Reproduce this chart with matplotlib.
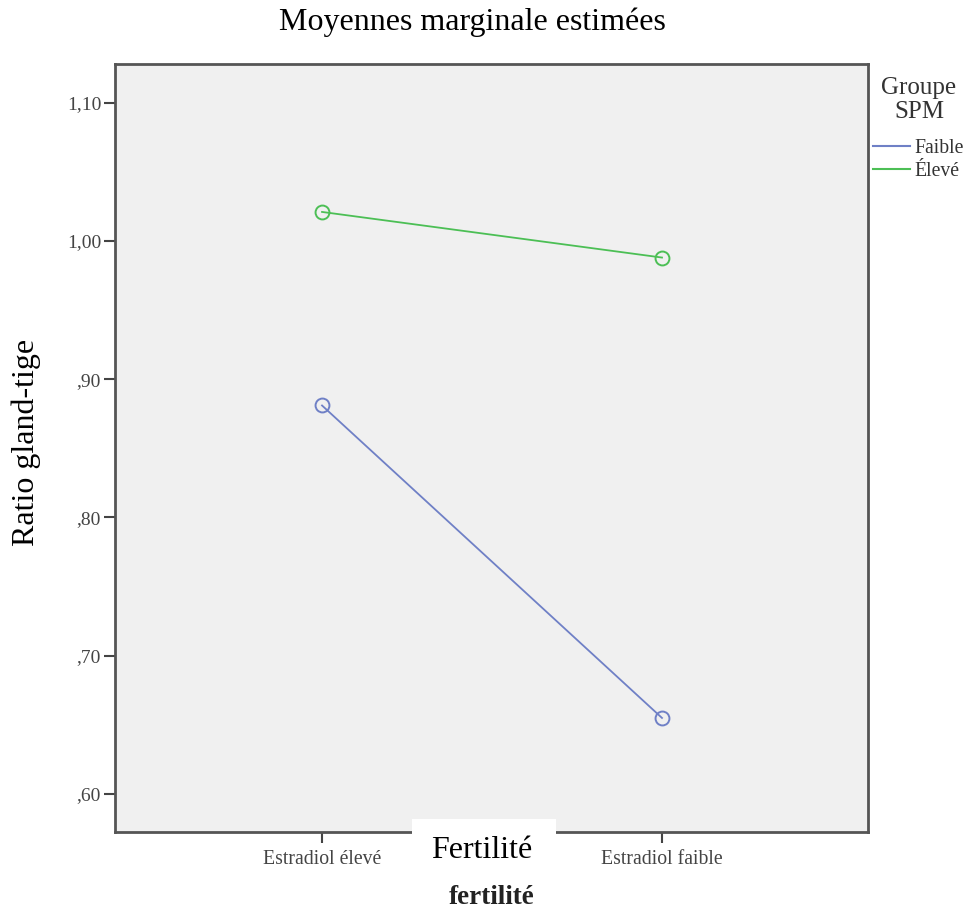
import matplotlib
matplotlib.use("Agg")
import matplotlib.pyplot as plt
from matplotlib.lines import Line2D
from matplotlib.patches import Rectangle

plt.rcParams['font.family'] = ['Liberation Serif', 'DejaVu Serif']

categories = ["Estradiol élevé", "Estradiol faible"]
groups = ["Faible", "Élevé"]
faible_values = [0.881, 0.655]
eleve_values = [1.021, 0.988]
yticks = [0.60, 0.70, 0.80, 0.90, 1.00, 1.10]
ytick_labels = [",60", ",70", ",80", ",90", "1,00", "1,10"]

blue = "#6f80c6"
green = "#4cbf55"

W, H = 970, 914
fig = plt.figure(figsize=(W/100, H/100), dpi=100)
ax = fig.add_axes([115/W, (H-832)/H, (868-115)/W, (832-64)/H])
ax.set_facecolor("#f0f0f0")

x = list(range(len(categories)))
ax.plot(x, faible_values, color=blue, lw=1.3, marker='o', ms=10, mfc='none',
        mec=blue, mew=1.4, zorder=3)
ax.plot(x, eleve_values, color=green, lw=1.3, marker='o', ms=10, mfc='none',
        mec=green, mew=1.4, zorder=3)

ax.set_xlim(-0.609, 1.606)
ax.set_ylim(0.5725, 1.128)
ax.set_yticks(yticks)
ax.set_yticklabels(ytick_labels)
ax.set_xticks(x)
ax.set_xticklabels(categories)
ax.tick_params(axis='y', direction='out', length=8, width=1.5, color='#444444',
               labelsize=14, labelcolor='#444444', pad=2)
ax.tick_params(axis='x', direction='out', length=8, width=1.5, color='#444444',
               labelsize=14.2, labelcolor='#444444', pad=5)
for s in ax.spines.values():
    s.set_color('#555555')
    s.set_linewidth(2)

fig.text(472/W, 1-22/H, "Moyennes marginale estimées", ha='center', va='center',
         fontsize=23)
fig.text(26/W, 1-442/H, "Ratio gland-tige", ha='center', va='center',
         rotation=90, fontsize=23)
fig.text(492/W, 1-898/H, "fertilité", ha='center', va='center',
         fontsize=19.5, fontweight='bold', color='#222222')

# white box with overlay title
fig.patches.append(Rectangle((412/W, 1-872/H), (556-412)/W, (872-819)/H,
                             transform=fig.transFigure, facecolor='white',
                             edgecolor='none', zorder=5))
fig.text(482/W, 1-850/H, "Fertilité", ha='center', va='center', fontsize=23,
         zorder=6)

# legend
fig.text(919/W, 1-88/H, "Groupe", ha='center', va='center', fontsize=18,
         color='#333333')
fig.text(919/W, 1-112/H, "SPM", ha='center', va='center', fontsize=18,
         color='#333333')
handles = [Line2D([], [], color=blue, lw=1.5), Line2D([], [], color=green, lw=1.5)]
leg = fig.legend(handles, groups, loc='upper left', bbox_to_anchor=(873/W, 1-139/H),
                 frameon=False, fontsize=14.2, handlelength=1.9, handletextpad=0.2,
                 labelspacing=0.22, borderpad=0, borderaxespad=0)
for t in leg.get_texts():
    t.set_color('#333333')

fig.savefig("out.png", dpi=100)
